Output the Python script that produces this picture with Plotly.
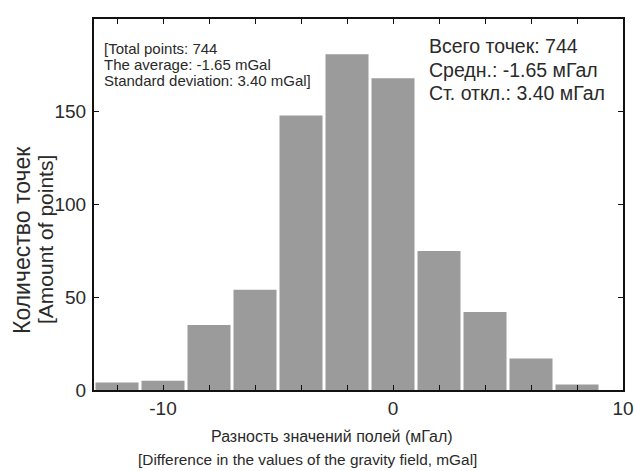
import plotly.graph_objects as go

bin_centers = [-12, -10, -8, -6, -4, -2, 0, 2, 4, 6, 8]
counts = [4, 5, 35, 54, 148, 181, 168, 75, 42, 17, 3]

x_tick_vals = [-12, -10, -8, -6, -4, -2, 0, 2, 4, 6, 8, 10]
x_tick_text = ["", "-10", "", "", "", "", "0", "", "", "", "", "10"]
y_tick_vals = [0, 50, 100, 150]

stats_en = ["[Total points: 744", "The average: -1.65 mGal", "Standard deviation: 3.40 mGal]"]
stats_ru = ["Всего точек: 744", "Средн.: -1.65 мГал", "Ст. откл.: 3.40 мГал"]

FONT = "Liberation Sans, Arial, sans-serif"
TXT = "#2a2a2a"

# plot area in page pixels
L, R, T, B = 94, 623, 19, 390


def px(xp):
    return (xp - L) / (R - L)


def py(yp):
    return (B - yp) / (B - T)


fig = go.Figure()
fig.add_trace(go.Bar(
    x=bin_centers, y=counts, width=1.87,
    marker=dict(color="#9b9b9b", line=dict(width=0)),
    showlegend=False,
))

fig.update_layout(
    width=634, height=471,
    margin=dict(l=L, r=634 - R, t=T, b=471 - B),
    plot_bgcolor="white", paper_bgcolor="white",
    font=dict(family=FONT, color=TXT, size=16),
    xaxis=dict(range=[-13, 10], tickvals=x_tick_vals, ticktext=x_tick_text,
               ticks="inside", ticklen=5, tickwidth=1, tickcolor="#111",
               showline=True, linewidth=2, linecolor="#111", mirror="ticks",
               showgrid=False, zeroline=False, automargin=False,
               tickfont=dict(size=19, color=TXT)),
    yaxis=dict(range=[0, 200], tickvals=y_tick_vals,
               ticks="inside", ticklen=5, tickwidth=1, tickcolor="#111",
               showline=True, linewidth=2, linecolor="#111", mirror="ticks",
               showgrid=False, zeroline=False, automargin=False,
               tickfont=dict(size=19, color=TXT), ticklabelstandoff=2),
)

annots = []
annots.append(dict(text="Разность значений полей (мГал)", x=px(332), y=py(437), font=dict(size=16)))
annots.append(dict(text="[Difference in the values of the gravity field, mGal]", x=px(307), y=py(459), font=dict(size=15.4)))
for a in annots:
    a.update(xref="paper", yref="paper", showarrow=False, xanchor="center", yanchor="middle")

for txt, xp, yc, fs in [("Количество точек", 22, 240, 23), ("[Amount of points]", 45, 240, 21)]:
    annots.append(dict(text=txt, textangle=-90, xref="paper", yref="paper",
                       x=px(xp), y=py(yc), showarrow=False,
                       xanchor="center", yanchor="middle", font=dict(size=fs)))

for i, t in enumerate(stats_en):
    yy = 48 + i * 16
    annots.append(dict(text=t, xref="paper", yref="paper", x=px(102), y=py(yy),
                       showarrow=False, xanchor="left", yanchor="middle",
                       font=dict(size=15)))
for i, t in enumerate(stats_ru):
    yy = 46 + i * 23.5
    annots.append(dict(text=t, xref="paper", yref="paper", x=px(427), y=py(yy),
                       showarrow=False, xanchor="left", yanchor="middle",
                       font=dict(size=19.5)))

fig.update_layout(annotations=annots)
fig.write_html("out.html", config={"displayModeBar": False},
               post_script="document.body.style.margin='0';document.body.style.padding='0';")
